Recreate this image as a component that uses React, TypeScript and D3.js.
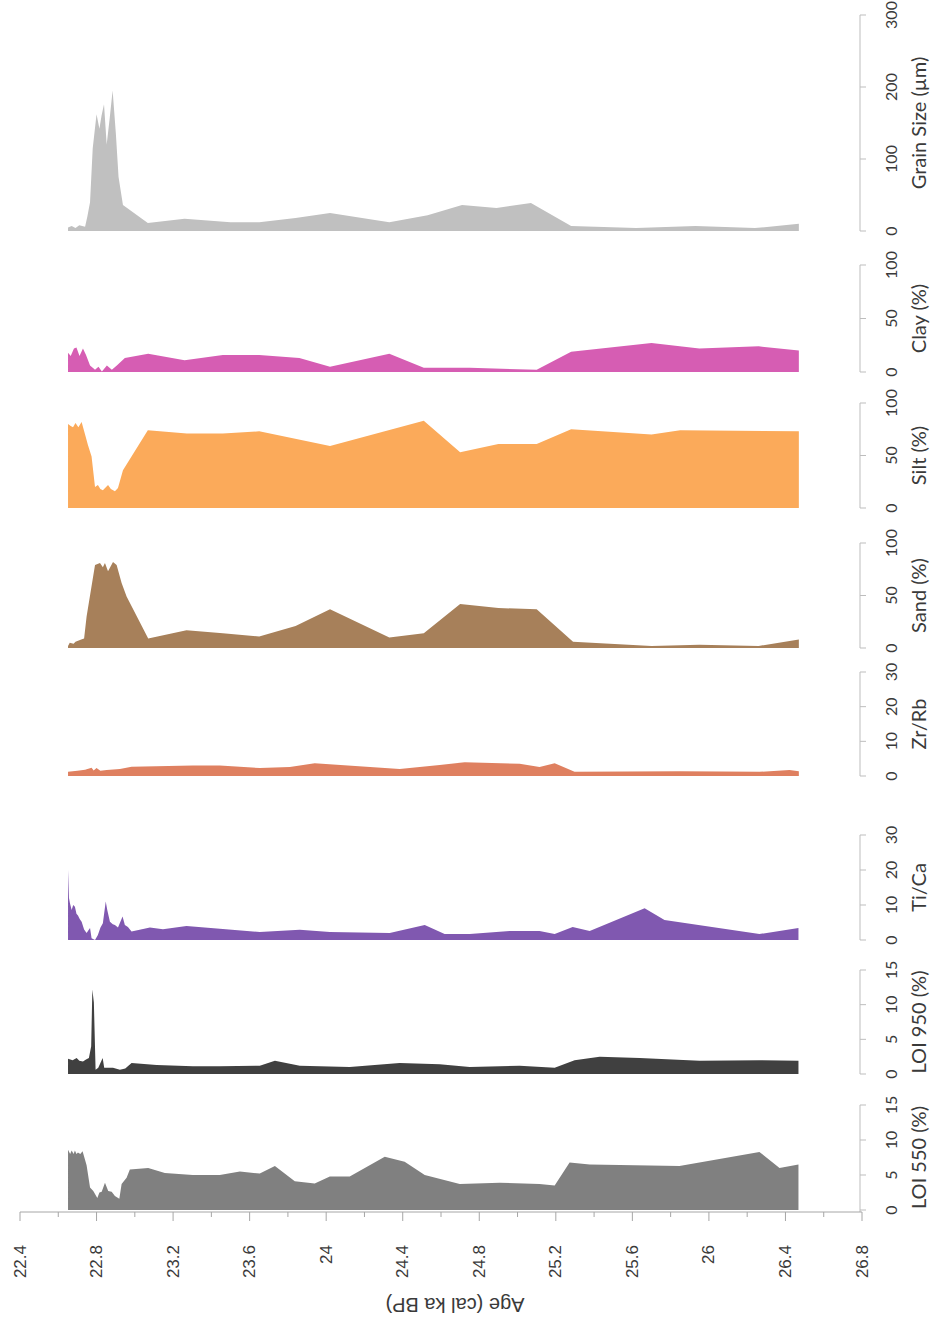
import * as d3 from 'd3';
import { useEffect, useRef } from 'react';

const WIDTH = 933;
const HEIGHT = 1323;

// age axis (cal ka BP)
const ageTicks = [22.4, 22.8, 23.2, 23.6, 24, 24.4, 24.8, 25.2, 25.6, 26, 26.4, 26.8];
const ageMinorTicks = [22.6, 23.0, 23.4, 23.8, 24.2, 24.6, 25.0, 25.4, 25.8, 26.2, 26.6];

// [age, value] pairs
const grainSize: [number, number][] = [
  [22.651, 5], [22.67, 7], [22.69, 4], [22.71, 8], [22.74, 6], [22.752, 20], [22.766, 40],
  [22.78, 115], [22.8, 162], [22.815, 142], [22.826, 160], [22.839, 176], [22.853, 120],
  [22.868, 155], [22.884, 195], [22.901, 135], [22.915, 75], [22.938, 36], [23.068, 11],
  [23.26, 17], [23.5, 12], [23.65, 12], [23.84, 18], [24.02, 25], [24.33, 12], [24.53, 22],
  [24.71, 36], [24.89, 32], [25.07, 39], [25.28, 7], [25.62, 4], [25.93, 7], [26.24, 4], [26.47, 10],
];

const clay: [number, number][] = [
  [22.651, 18], [22.665, 15], [22.682, 22], [22.695, 23], [22.711, 15], [22.729, 22], [22.745, 16],
  [22.766, 6], [22.78, 4], [22.792, 2], [22.81, 5], [22.828, 0.5], [22.854, 6], [22.88, 2],
  [22.906, 6], [22.948, 13], [23.07, 17], [23.26, 11], [23.46, 16], [23.65, 16], [23.86, 13],
  [24.02, 5], [24.33, 17], [24.51, 4], [24.75, 4], [25.1, 2], [25.28, 19], [25.7, 27],
  [25.95, 22], [26.26, 24], [26.47, 20],
];

const silt: [number, number][] = [
  [22.651, 80], [22.665, 78], [22.677, 77], [22.69, 81], [22.705, 77], [22.722, 82], [22.74, 70],
  [22.755, 60], [22.774, 49], [22.792, 20], [22.807, 22], [22.82, 18], [22.833, 17], [22.86, 22],
  [22.875, 18], [22.896, 16], [22.912, 19], [22.938, 36], [23.068, 74], [23.272, 71], [23.46, 71],
  [23.65, 73], [24.02, 59], [24.51, 83], [24.7, 53], [24.9, 61], [25.1, 61], [25.28, 75],
  [25.7, 70], [25.85, 74], [26.47, 73],
];

const sand: [number, number][] = [
  [22.651, 2], [22.66, 5], [22.68, 4], [22.69, 6], [22.72, 8], [22.735, 9], [22.748, 30],
  [22.792, 79], [22.818, 81], [22.833, 77], [22.844, 81], [22.86, 73], [22.886, 82], [22.905, 79],
  [22.931, 62], [22.957, 49], [23.07, 9], [23.27, 17], [23.46, 14], [23.65, 11], [23.84, 21],
  [24.02, 37], [24.33, 10], [24.51, 14], [24.7, 42], [24.9, 38], [25.1, 37], [25.29, 6],
  [25.7, 2], [25.95, 3], [26.26, 2], [26.47, 8],
];

const zrRb: [number, number][] = [
  [22.651, 1.2], [22.7, 1.5], [22.74, 1.8], [22.774, 2.4], [22.785, 1.6], [22.8, 2.3], [22.82, 1.5],
  [22.853, 1.7], [22.922, 2], [22.983, 2.7], [23.303, 3], [23.444, 3], [23.653, 2.3], [23.81, 2.6],
  [23.94, 3.7], [24.384, 2], [24.593, 3.2], [24.724, 4], [25.011, 3.5], [25.115, 2.6], [25.194, 3.7],
  [25.298, 1.2], [25.846, 1.4], [26.264, 1.2], [26.421, 1.7], [26.47, 1.4],
];

const tiCa: [number, number][] = [
  [22.651, 20], [22.656, 12], [22.661, 10.5], [22.67, 8.6], [22.678, 10], [22.687, 9.5], [22.695, 7.5],
  [22.703, 7], [22.712, 6], [22.722, 5.2], [22.735, 3], [22.748, 2], [22.766, 3.4], [22.774, 0.5],
  [22.792, 0], [22.807, 1.4], [22.82, 3.5], [22.833, 4.8], [22.848, 11], [22.856, 8.6], [22.87, 5.2],
  [22.885, 4.5], [22.896, 4.3], [22.912, 3.6], [22.936, 6.7], [22.948, 4.3], [22.964, 3.7],
  [22.983, 2.4], [23.079, 3.6], [23.147, 3.1], [23.27, 4], [23.444, 3.2], [23.653, 2.3], [23.862, 2.9],
  [24.019, 2.3], [24.332, 2], [24.515, 4.3], [24.619, 1.7], [24.75, 1.7], [24.959, 2.6], [25.115, 2.6],
  [25.194, 1.7], [25.288, 3.7], [25.377, 2.6], [25.664, 9.1], [25.768, 5.7], [26.264, 1.7], [26.468, 3.4],
];

const loi950: [number, number][] = [
  [22.651, 2.2], [22.675, 2], [22.696, 2.3], [22.71, 1.9], [22.729, 1.8], [22.745, 2.1], [22.76, 2.3],
  [22.772, 4], [22.778, 12.2], [22.786, 10.3], [22.795, 0.6], [22.809, 0.9], [22.832, 2.3], [22.84, 0.9],
  [22.886, 0.9], [22.922, 0.6], [22.95, 0.8], [22.983, 1.6], [23.114, 1.3], [23.303, 1.1], [23.444, 1.1],
  [23.653, 1.2], [23.732, 1.9], [23.862, 1.2], [24.123, 1], [24.384, 1.6], [24.593, 1.4], [24.75, 1],
  [25.011, 1.2], [25.194, 0.9], [25.298, 2], [25.429, 2.5], [25.638, 2.3], [25.951, 1.9], [26.264, 2],
  [26.468, 1.9],
];

const loi550: [number, number][] = [
  [22.651, 8.6], [22.662, 8], [22.67, 8.5], [22.68, 8], [22.687, 8.5], [22.695, 8], [22.703, 8.2],
  [22.715, 8], [22.727, 8.4], [22.748, 6.4], [22.766, 3.2], [22.783, 2.7], [22.804, 1.7], [22.815, 2.5],
  [22.827, 2.6], [22.844, 3.9], [22.861, 2.7], [22.879, 2.6], [22.896, 2], [22.919, 1.6], [22.931, 3.7],
  [22.957, 4.6], [22.974, 5.8], [23.07, 6], [23.157, 5.3], [23.303, 5], [23.444, 5], [23.549, 5.5],
  [23.653, 5.2], [23.732, 6.3], [23.836, 4.1], [23.94, 3.8], [24.019, 4.8], [24.123, 4.8], [24.306, 7.6],
  [24.41, 6.9], [24.515, 5], [24.698, 3.7], [24.907, 3.9], [25.115, 3.7], [25.194, 3.5], [25.272, 6.8],
  [25.377, 6.5], [25.846, 6.3], [26.264, 8.3], [26.369, 6], [26.468, 6.5],
];

const PANELS = [
  { title: 'Grain Size (µm)', data: grainSize, color: '#c0c0c0', ticks: [0, 100, 200, 300] },
  { title: 'Clay (%)', data: clay, color: '#d65db3', ticks: [0, 50, 100] },
  { title: 'Silt (%)', data: silt, color: '#fbaa5a', ticks: [0, 50, 100] },
  { title: 'Sand (%)', data: sand, color: '#a7805a', ticks: [0, 50, 100] },
  { title: 'Zr/Rb', data: zrRb, color: '#df8060', ticks: [0, 10, 20, 30] },
  { title: 'Ti/Ca', data: tiCa, color: '#8058b0', ticks: [0, 10, 20, 30] },
  { title: 'LOI 950 (%)', data: loi950, color: '#404040', ticks: [0, 5, 10, 15] },
  { title: 'LOI 550 (%)', data: loi550, color: '#808080', ticks: [0, 5, 10, 15] },
];

// pixel rows of each panel: y of the top tick and y of zero
const ROWS = [
  { top: 15, bottom: 231 },
  { top: 265, bottom: 372 },
  { top: 403, bottom: 508 },
  { top: 543, bottom: 648 },
  { top: 672, bottom: 776 },
  { top: 835, bottom: 940 },
  { top: 970, bottom: 1074 },
  { top: 1105, bottom: 1210 },
];

const X_LEFT = 20;
const X_RIGHT = 862;
const AXIS_Y = 1212;
const VALUE_AXIS_X = 860;
const AXIS_COLOR = '#bdbdbd';
const TEXT_COLOR = '#3a3a3a';

export default function App() {
  const svgRef = useRef<SVGSVGElement>(null);

  useEffect(() => {
    const svg = d3.select(svgRef.current);
    svg.selectAll('*').remove();

    const x = d3.scaleLinear().domain([22.4, 26.8]).range([X_LEFT, X_RIGHT]);

    PANELS.forEach((p, i) => {
      const row = ROWS[i];
      const y = d3.scaleLinear()
        .domain([0, p.ticks[p.ticks.length - 1]])
        .range([row.bottom, row.top]);

      const area = d3.area<[number, number]>()
        .x(d => x(d[0]))
        .y0(y(0))
        .y1(d => y(d[1]));

      svg.append('path')
        .attr('d', area(p.data))
        .attr('fill', p.color);

      const g = svg.append('g');
      const lineBottom = i === PANELS.length - 1 ? AXIS_Y : row.bottom;
      g.append('line')
        .attr('x1', VALUE_AXIS_X).attr('x2', VALUE_AXIS_X)
        .attr('y1', row.top).attr('y2', lineBottom)
        .attr('stroke', AXIS_COLOR).attr('stroke-width', 1);

      p.ticks.forEach(t => {
        g.append('line')
          .attr('x1', VALUE_AXIS_X).attr('x2', VALUE_AXIS_X + 6)
          .attr('y1', y(t)).attr('y2', y(t))
          .attr('stroke', AXIS_COLOR);
        g.append('text')
          .attr('transform', `translate(${VALUE_AXIS_X + 30},${y(t)}) rotate(-90)`)
          .attr('text-anchor', 'middle')
          .attr('dominant-baseline', 'central')
          .attr('font-family', 'Lato, "Open Sans", sans-serif')
          .attr('font-size', 16)
          .attr('fill', TEXT_COLOR)
          .text(t);
      });

      g.append('text')
        .attr('transform', `translate(${VALUE_AXIS_X + 58},${(row.top + row.bottom) / 2}) rotate(-90)`)
        .attr('text-anchor', 'middle')
        .attr('dominant-baseline', 'central')
        .attr('font-family', 'Lato, "Open Sans", sans-serif')
        .attr('font-size', 20)
        .attr('fill', TEXT_COLOR)
        .text(p.title);
    });

    // age axis along the bottom
    const ax = svg.append('g');
    ax.append('line')
      .attr('x1', X_LEFT).attr('x2', X_RIGHT)
      .attr('y1', AXIS_Y).attr('y2', AXIS_Y)
      .attr('stroke', '#a6a6a6');

    ageMinorTicks.forEach(t => {
      ax.append('line')
        .attr('x1', x(t)).attr('x2', x(t))
        .attr('y1', AXIS_Y).attr('y2', AXIS_Y + 5)
        .attr('stroke', '#a6a6a6');
    });

    ageTicks.forEach(t => {
      ax.append('line')
        .attr('x1', x(t)).attr('x2', x(t))
        .attr('y1', AXIS_Y).attr('y2', AXIS_Y + 9)
        .attr('stroke', '#a6a6a6');
      ax.append('text')
        .attr('transform', `translate(${x(t)},${AXIS_Y + 33}) rotate(-90)`)
        .attr('text-anchor', 'end')
        .attr('dominant-baseline', 'central')
        .attr('font-family', '"Liberation Sans", Arial, sans-serif')
        .attr('font-size', 17)
        .attr('fill', TEXT_COLOR)
        .text(t);
    });

    ax.append('text')
      .attr('transform', `translate(455,${AXIS_Y + 93}) rotate(180)`)
      .attr('text-anchor', 'middle')
      .attr('dominant-baseline', 'central')
      .attr('font-family', '"Liberation Sans", Arial, sans-serif')
      .attr('font-size', 20)
      .attr('fill', TEXT_COLOR)
      .text('Age (cal ka BP)');
  }, []);

  return (
    <div style={{ position: 'absolute', left: 0, top: 0, background: '#fff' }}>
      <svg ref={svgRef} width={WIDTH} height={HEIGHT} style={{ display: 'block' }} />
    </div>
  );
}
